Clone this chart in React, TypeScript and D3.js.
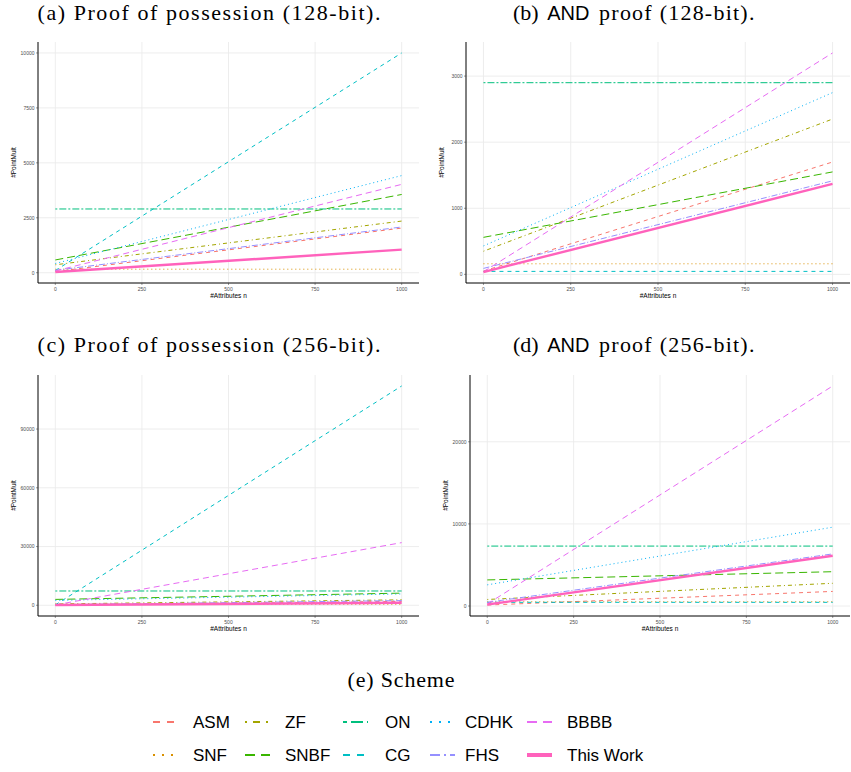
import * as d3 from "d3";
import React, { useEffect } from "react";

// schemes, in legend order (ggplot hue palette)
const schemes = ["ASM", "SNF", "ZF", "SNBF", "ON", "CG", "CDHK", "FHS", "BBBB", "This Work"];
const colors = ["#F8766D", "#D89000", "#A3A500", "#39B600", "#00BF7D", "#00BFC4", "#00B0F6", "#9590FF", "#E76BF3", "#FF62BC"];
const dashes = ["4,4", "1,3", "1,3,4,3", "8,4", "2,2,7,2", "4,4", "1,3", "6,2,1,2", "6,4", null];
const legendDashes = ["7,7", "2,7", "2,6,7,6", "10,6", "4,4,12,4", "7,7", "2,7", "10,4,2,4", "10,6", null];

// #Attributes n at which each line is read (all lines are straight)
const nPoints = [0, 1000];

// #PointMult at n = 0 and n = 1000, per scheme
const pop128 = [[50, 2030], [160, 160], [360, 2350], [580, 3560], [2900, 2900], [100, 10000], [420, 4420], [110, 2080], [80, 4020], [30, 1050]];
const and128 = [[50, 1700], [160, 160], [350, 2350], [560, 1550], [2900, 2900], [45, 45], [430, 2750], [90, 1415], [40, 3350], [35, 1370]];
const pop256 = [[150, 2000], [500, 500], [700, 2800], [3000, 6200], [7300, 7300], [200, 112000], [2500, 5800], [300, 2400], [200, 32000], [120, 1300]];
const and256 = [[120, 1780], [520, 520], [800, 2770], [3180, 4180], [7300, 7300], [450, 450], [2580, 9600], [450, 6350], [250, 26800], [180, 6120]];

const xTicks = [0, 250, 500, 750, 1000];
const yTicksPop128 = [0, 2500, 5000, 7500, 10000];
const yTicksAnd128 = [0, 1000, 2000, 3000];
const yTicksPop256 = [0, 30000, 60000, 90000];
const yTicksAnd256 = [0, 10000, 20000];

const serif = "'Liberation Serif', 'DejaVu Serif', serif";
const sans = "'Liberation Sans', Arial, sans-serif";

const panels = [
  { key: "a", pre: "(a) Proof of possession (128-bit).", and: false, data: pop128, yTicks: yTicksPop128, x0: 38, x1: 419, y0: 42, y1: 283, tx: 209, ty: 20, tw: 343 },
  { key: "b", pre: "(b) ", post: " proof (128-bit).", and: true, data: and128, yTicks: yTicksAnd128, x0: 466, x1: 850, y0: 42, y1: 283, tx: 645, ty: 20, tw: 264 },
  { key: "c", pre: "(c) Proof of possession (256-bit).", and: false, data: pop256, yTicks: yTicksPop256, x0: 38, x1: 419, y0: 375, y1: 616, tx: 209, ty: 352, tw: 343 },
  { key: "d", pre: "(d) ", post: " proof (256-bit).", and: true, data: and256, yTicks: yTicksAnd256, x0: 470, x1: 850, y0: 375, y1: 616, tx: 645, ty: 352, tw: 264 },
];

// legend layout: columns of two rows
const legendKeyX = [153, 245, 343, 430, 527];
const legendLabelX = [193, 285, 385, 465, 567];
const legendRowY = [722, 755];

function Panel({ p }: { p: any }) {
  const all = p.data.flat();
  const lo = d3.min(all) as number;
  const hi = d3.max(all) as number;
  const pad = (hi - lo) * 0.05;
  const x = d3.scaleLinear().domain([-50, 1050]).range([p.x0, p.x1]);
  const y = d3.scaleLinear().domain([lo - pad, hi + pad]).range([p.y1, p.y0]);
  const line = d3
    .line<number>()
    .x((_, i) => x(nPoints[i]))
    .y((v) => y(v));

  return (
    <g>
      {p.and ? (
        <text x={p.tx - p.tw / 2} y={p.ty} fontFamily={serif} fontSize={22} fill="#000">
          <tspan>{p.pre}</tspan>
          <tspan fontFamily={sans} fontSize={20} dx={3}>AND</tspan>
          <tspan dx={3} textLength={162} lengthAdjust="spacing">{p.post}</tspan>
        </text>
      ) : (
        <text x={p.tx} y={p.ty} textAnchor="middle" fontFamily={serif} fontSize={22} fill="#000" textLength={p.tw} lengthAdjust="spacing">
          {p.pre}
        </text>
      )}
      {/* grid */}
      {xTicks.map((t) => (
        <line key={"gx" + t} x1={x(t)} x2={x(t)} y1={p.y0} y2={p.y1} stroke="#EBEBEB" strokeWidth={0.9} />
      ))}
      {p.yTicks.map((t: number) => (
        <line key={"gy" + t} x1={p.x0} x2={p.x1} y1={y(t)} y2={y(t)} stroke="#EBEBEB" strokeWidth={0.9} />
      ))}
      {/* series */}
      {schemes.map((s, i) => (
        <path
          key={s}
          d={line(p.data[i]) as string}
          fill="none"
          stroke={colors[i]}
          strokeWidth={s === "This Work" ? 2.4 : 1}
          strokeDasharray={dashes[i] ?? undefined}
        />
      ))}
      {/* axes */}
      <line x1={p.x0} x2={p.x0} y1={p.y0} y2={p.y1} stroke="#000" strokeWidth={1} />
      <line x1={p.x0} x2={p.x1} y1={p.y1} y2={p.y1} stroke="#000" strokeWidth={1} />
      {xTicks.map((t) => (
        <g key={"tx" + t}>
          <line x1={x(t)} x2={x(t)} y1={p.y1} y2={p.y1 + 2} stroke="#333" strokeWidth={0.5} />
          <text x={x(t)} y={p.y1 + 8} textAnchor="middle" fontFamily={sans} fontSize={5} fill="#4D4D4D">
            {t}
          </text>
        </g>
      ))}
      {p.yTicks.map((t: number) => (
        <g key={"ty" + t}>
          <line x1={p.x0 - 2} x2={p.x0} y1={y(t)} y2={y(t)} stroke="#333" strokeWidth={0.5} />
          <text x={p.x0 - 3.5} y={y(t) + 1.8} textAnchor="end" fontFamily={sans} fontSize={5} fill="#4D4D4D">
            {t}
          </text>
        </g>
      ))}
      <text x={(p.x0 + p.x1) / 2} y={p.y1 + 15} textAnchor="middle" fontFamily={sans} fontSize={6.5} fill="#000">
        #Attributes n
      </text>
      <text
        transform={`translate(${p.x0 - 22},${(p.y0 + p.y1) / 2}) rotate(-90)`}
        textAnchor="middle"
        fontFamily={sans}
        fontSize={6.5}
        fill="#000"
      >
        #PointMult
      </text>
    </g>
  );
}

export default function App() {
  useEffect(() => {
    document.body.style.margin = "0";
  }, []);

  return (
    <svg width={851} height={772} style={{ display: "block", background: "#fff" }}>
      <rect width={851} height={772} fill="#fff" />
      {panels.map((p) => (
        <Panel key={p.key} p={p} />
      ))}
      <text x={401} y={687} textAnchor="middle" fontFamily={serif} fontSize={22} fill="#000" textLength={107} lengthAdjust="spacing">
        (e) Scheme
      </text>
      {schemes.map((s, i) => {
        const col = Math.floor(i / 2);
        const row = i % 2;
        const cy = legendRowY[row];
        return (
          <g key={"lg" + s}>
            <line
              x1={legendKeyX[col]}
              x2={legendKeyX[col] + 25}
              y1={cy}
              y2={cy}
              stroke={colors[i]}
              strokeWidth={s === "This Work" ? 4 : 2}
              strokeDasharray={legendDashes[i] ?? undefined}
            />
            <text x={legendLabelX[col]} y={cy + 6} fontFamily={sans} fontSize={17} fill="#000">
              {s}
            </text>
          </g>
        );
      })}
    </svg>
  );
}
